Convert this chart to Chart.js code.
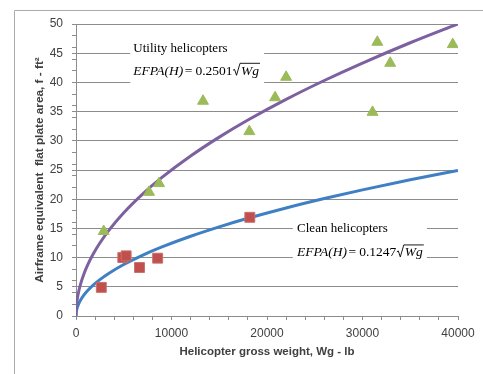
<!DOCTYPE html>
<html>
<head>
<meta charset="utf-8">
<script src="https://cdn.jsdelivr.net/npm/chart.js@4.4.1/dist/chart.umd.min.js"></script>
<style>
  html, body { margin: 0; padding: 0; background: #fff; }
  #wrap { width: 483px; height: 374px; }
</style>
</head>
<body>
<div id="wrap"><canvas id="efpa-chart" width="483" height="374"></canvas></div>
<script>
// Airframe equivalent flat plate area vs. helicopter gross weight

// utility helicopters (triangles)
const utilityWg = [2900, 7650, 8700, 13300, 18150, 20850, 22000, 31050, 31550, 32900, 39450];
const utilityF  = [14.5, 21.2, 22.7, 36.8, 31.6, 37.4, 40.9, 34.9, 46.9, 43.3, 46.5];

// clean helicopters (squares)
const cleanWg = [2650, 4900, 5250, 6650, 8550, 18200];
const cleanF  = [4.9, 10.0, 10.3, 8.3, 9.9, 16.9];

// fitted curves EFPA(H) = k * sqrt(Wg)
const utilityCoef = 0.2501;
const cleanCoef = 0.1247;
const curveWg = [0, 20, 60, 150, 300, 500, 800, 1200, 1800, 2500, 3500, 5000, 7000, 9000,
                 12000, 15000, 18000, 22000, 26000, 30000, 35000, 40000];

// axis ticks
const xMajor = [0, 10000, 20000, 30000, 40000];
const xMinor = [2000, 4000, 6000, 8000, 12000, 14000, 16000, 18000, 22000, 24000, 26000, 28000,
                32000, 34000, 36000, 38000];
const yMajor = [0, 5, 10, 15, 20, 25, 30, 35, 40, 45, 50];
const yMinor = [2, 4, 6, 8, 12, 14, 16, 18, 22, 24, 26, 28, 32, 34, 36, 38, 42, 44, 46, 48];

const GRID = '#8c8c8c';
const TEXT = '#404040';

const fitCurve = k => curveWg.map(w => ({ x: w, y: k * Math.sqrt(w) }));
const pairs = (xs, ys) => xs.map((x, i) => ({ x: x, y: ys[i] }));
const tickList = (major, minor) => major.concat(minor).sort((a, b) => a - b).map(v => ({ value: v }));

// text boxes sitting over the grid (in data units)
const notes = [
  { title: 'Utility helicopters', coef: utilityCoef, box: [5680, 19700, 38.4, 47.6],
    textWg: 6000, titleF: 45.2, eqF: 41.3 },
  { title: 'Clean helicopters', coef: cleanCoef, box: [22700, 36750, 8.4, 17.0],
    textWg: 23150, titleF: 14.3, eqF: 10.2 }
];

function drawEquation(ctx, x, base, coef) {
  const it = 'italic 13.5px "Liberation Serif", "Times New Roman", serif';
  const up = '13.5px "Liberation Serif", "Times New Roman", serif';
  ctx.fillStyle = '#000';
  ctx.font = it;
  ctx.fillText('EFPA(H)', x, base);
  x += ctx.measureText('EFPA(H)').width + 1.5;
  ctx.font = up;
  ctx.fillText('=', x, base);
  x += ctx.measureText('=').width + 3;
  const num = coef.toFixed(4);
  ctx.fillText(num, x, base);
  x += ctx.measureText(num).width + 0.5;
  // radical sign
  ctx.font = it;
  const wgW = ctx.measureText('Wg').width;
  ctx.strokeStyle = '#000';
  ctx.lineWidth = 0.9;
  ctx.beginPath();
  ctx.moveTo(x, base - 4.5);
  ctx.lineTo(x + 1.5, base - 5.5);
  ctx.lineTo(x + 3.5, base + 0.5);
  ctx.lineTo(x + 7, base - 11.5);
  ctx.lineTo(x + 8 + wgW + 1, base - 11.5);
  ctx.stroke();
  ctx.fillText('Wg', x + 8, base);
}

const frameAndNotes = {
  id: 'frameAndNotes',
  beforeDraw(chart) {
    const ctx = chart.ctx;
    ctx.save();
    ctx.fillStyle = '#fff';
    ctx.fillRect(0, 0, chart.width, chart.height);
    ctx.strokeStyle = '#ababab';
    ctx.lineWidth = 1;
    ctx.beginPath();
    ctx.moveTo(14.5, chart.height);
    ctx.lineTo(14.5, 10.5);
    ctx.lineTo(chart.width, 10.5);
    ctx.stroke();
    ctx.restore();
  },
  beforeDatasetsDraw(chart) {
    const { ctx, scales: { x, y } } = chart;
    ctx.save();
    notes.forEach(n => {
      const l = x.getPixelForValue(n.box[0]);
      const r = x.getPixelForValue(n.box[1]);
      const t = y.getPixelForValue(n.box[3]);
      const b = y.getPixelForValue(n.box[2]);
      ctx.fillStyle = '#fff';
      ctx.fillRect(l, t, r - l, b - t);
      const tx = x.getPixelForValue(n.textWg);
      ctx.textAlign = 'left';
      ctx.textBaseline = 'alphabetic';
      ctx.fillStyle = '#000';
      ctx.font = '13px "Liberation Serif", "Times New Roman", serif';
      ctx.fillText(n.title, tx, y.getPixelForValue(n.titleF));
      drawEquation(ctx, tx, y.getPixelForValue(n.eqF), n.coef);
    });
    ctx.restore();
  }
};

function noPadding(scale) {
  scale.paddingLeft = 0;
  scale.paddingRight = 0;
  scale.paddingTop = 0;
  scale.paddingBottom = 0;
}

new Chart(document.getElementById('efpa-chart'), {
  type: 'scatter',
  data: {
    datasets: [
      {
        label: 'Utility helicopters',
        data: pairs(utilityWg, utilityF),
        pointStyle: 'triangle',
        pointRadius: 6.3,
        backgroundColor: '#9bbb59',
        borderColor: '#9bbb59',
        borderWidth: 1,
        order: 0
      },
      {
        label: 'Clean helicopters',
        data: pairs(cleanWg, cleanF),
        pointStyle: 'rect',
        pointRadius: 7,
        backgroundColor: '#c0504d',
        borderColor: '#cd6d6a',
        borderWidth: 1,
        order: 0
      },
      {
        label: 'Utility fit',
        data: fitCurve(utilityCoef),
        showLine: true,
        cubicInterpolationMode: 'monotone',
        borderColor: '#7d60a0',
        borderWidth: 3,
        pointRadius: 0,
        order: 1
      },
      {
        label: 'Clean fit',
        data: fitCurve(cleanCoef),
        showLine: true,
        cubicInterpolationMode: 'monotone',
        borderColor: '#3f7fc3',
        borderWidth: 3,
        pointRadius: 0,
        order: 1
      }
    ]
  },
  options: {
    responsive: false,
    animation: false,
    layout: { padding: { left: 33, right: 25, top: 24, bottom: 15 } },
    plugins: {
      legend: { display: false },
      tooltip: { enabled: false }
    },
    scales: {
      x: {
        type: 'linear',
        min: 0,
        max: 40000,
        afterBuildTicks: s => { s.ticks = tickList(xMajor, xMinor); },
        afterFit: s => { s.height = 43; noPadding(s); },
        border: { color: GRID, width: 1 },
        grid: { drawOnChartArea: false, drawTicks: true, tickLength: 4, tickColor: GRID },
        ticks: {
          autoSkip: false,
          maxRotation: 0,
          padding: 6,
          color: TEXT,
          font: { family: '"Liberation Sans", Arial, sans-serif', size: 12 },
          callback: v => (xMajor.includes(v) ? String(v) : '')
        },
        title: {
          display: true,
          text: 'Helicopter gross weight, Wg - lb',
          color: TEXT,
          padding: 0,
          font: { family: '"Liberation Sans", Arial, sans-serif', size: 11.5, weight: 'bold' }
        }
      },
      y: {
        type: 'linear',
        min: 0,
        max: 50,
        afterBuildTicks: s => { s.ticks = tickList(yMajor, yMinor); },
        afterFit: s => { s.width = 43; noPadding(s); },
        border: { color: GRID, width: 1 },
        grid: {
          drawTicks: true,
          tickLength: 4,
          tickColor: GRID,
          color: c => (c.tick && yMajor.includes(c.tick.value) ? GRID : 'rgba(0,0,0,0)')
        },
        ticks: {
          autoSkip: false,
          padding: 9,
          color: TEXT,
          font: { family: '"Liberation Sans", Arial, sans-serif', size: 12 },
          callback: v => (yMajor.includes(v) ? String(v) : '')
        },
        title: {
          display: true,
          text: 'Airframe equivalent  flat plate area, f - ft\u00b2',
          color: TEXT,
          padding: 0,
          font: { family: '"Liberation Sans", Arial, sans-serif', size: 11.8, weight: 'bold' }
        }
      }
    }
  },
  plugins: [frameAndNotes]
});
</script>
</body>
</html>
